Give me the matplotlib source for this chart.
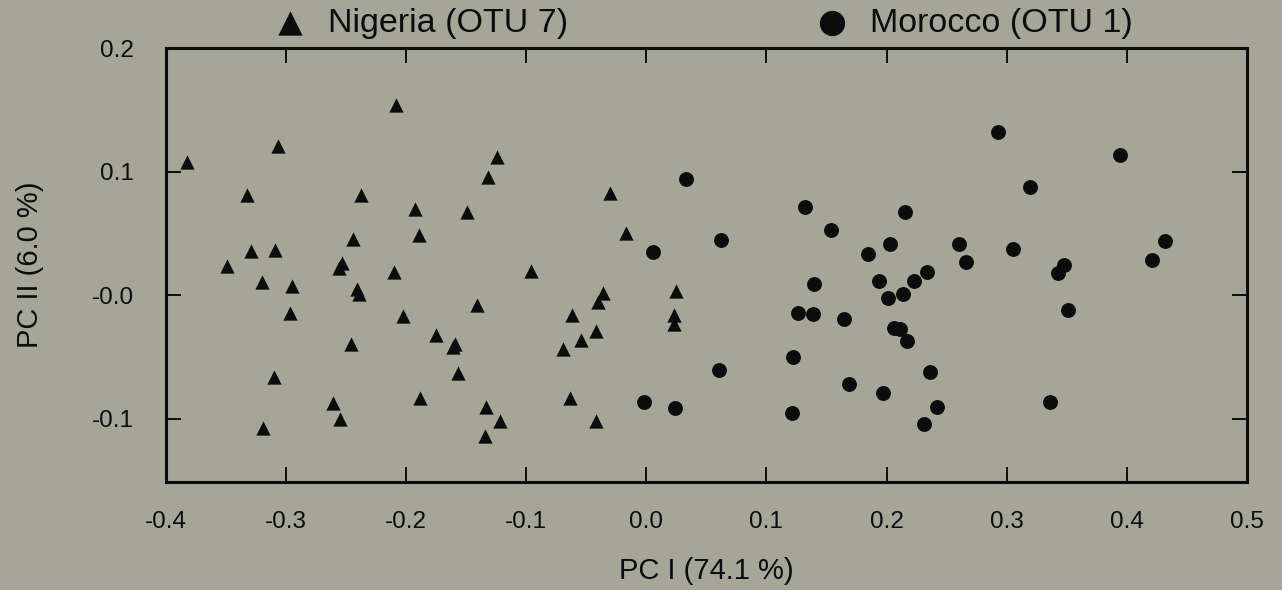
import numpy as np
import matplotlib
matplotlib.use('Agg')
import matplotlib.pyplot as plt

plt.rcParams['font.family'] = ['Liberation Sans', 'DejaVu Sans']

# PCA scores
nigeria_x = [-0.208, -0.306, -0.382, -0.124, -0.132, -0.332, -0.237, -0.192, -0.149,
             -0.244, -0.189, -0.329, -0.309, -0.349, -0.256, -0.253, -0.210, -0.096,
             -0.320, -0.295, -0.241, -0.239, -0.141, -0.296, -0.202, -0.175, -0.159,
             -0.161, -0.246, -0.062, -0.069, -0.157, -0.310, -0.188, -0.063, -0.261,
             -0.133, -0.255, -0.122, -0.319, -0.134, -0.030, -0.017, -0.036, -0.040,
             0.025, 0.023, 0.023, -0.042, -0.054, -0.042]
nigeria_y = [0.154, 0.121, 0.108, 0.112, 0.096, 0.081, 0.081, 0.070, 0.068,
             0.046, 0.049, 0.036, 0.037, 0.024, 0.022, 0.026, 0.019, 0.020,
             0.011, 0.008, 0.005, 0.001, -0.008, -0.014, -0.017, -0.032, -0.039,
             -0.042, -0.039, -0.016, -0.043, -0.063, -0.066, -0.083, -0.083, -0.087,
             -0.090, -0.100, -0.102, -0.107, -0.114, 0.083, 0.051, 0.002, -0.005,
             0.004, -0.016, -0.023, -0.029, -0.036, -0.102]

morocco_x = [0.033, 0.132, 0.215, 0.154, 0.062, 0.203, 0.006, 0.185, 0.194, 0.223,
             0.140, 0.214, 0.201, 0.126, 0.139, 0.165, 0.206, 0.211, 0.217, 0.122,
             0.061, 0.169, 0.197, -0.002, 0.024, 0.121, 0.293, 0.394, 0.319, 0.432,
             0.260, 0.305, 0.266, 0.421, 0.234, 0.348, 0.343, 0.351, 0.236, 0.336,
             0.242, 0.231]
morocco_y = [0.094, 0.072, 0.068, 0.053, 0.045, 0.042, 0.035, 0.034, 0.012, 0.012,
             0.009, 0.001, -0.002, -0.014, -0.015, -0.019, -0.026, -0.027, -0.037, -0.050,
             -0.060, -0.072, -0.079, -0.086, -0.091, -0.095, 0.132, 0.114, 0.088, 0.044,
             0.042, 0.038, 0.027, 0.029, 0.019, 0.025, 0.018, -0.012, -0.062, -0.086,
             -0.090, -0.104]

xticks = [-0.4, -0.3, -0.2, -0.1, 0.0, 0.1, 0.2, 0.3, 0.4, 0.5]
xticklabels = ['-0.4', '-0.3', '-0.2', '-0.1', '0.0', '0.1', '0.2', '0.3', '0.4', '0.5']
yticks = [-0.1, 0.0, 0.1, 0.2]
yticklabels = ['-0.1', '-0.0', '0.1', '0.2']

bg = '#a5a697'
ink = '#0c0c0c'

fig = plt.figure(figsize=(12.82, 5.90), dpi=100, facecolor=bg)
ax = fig.add_axes([0.1291, 0.1831, 0.8436, 0.7347])
ax.set_facecolor(bg)

tri = ax.scatter(nigeria_x, nigeria_y, marker='^', s=106, color=ink, linewidths=0)
dot = ax.scatter(morocco_x, morocco_y, marker='o', s=115, color=ink, linewidths=0)

ax.set_xlim(-0.4, 0.5)
ax.set_ylim(-0.151, 0.2)
ax.set_xticks(xticks)
ax.set_xticklabels(xticklabels)
ax.set_yticks(yticks)
ax.set_yticklabels(yticklabels)
ax.tick_params(direction='in', length=10.5, width=1.4, color=ink,
               top=True, right=True, labelsize=17.5, labelcolor=ink)
ax.tick_params(axis='x', pad=21)
ax.tick_params(axis='y', pad=23)
for sp in ax.spines.values():
    sp.set_linewidth(2.2)
    sp.set_color(ink)

ax.set_xlabel('PC I (74.1 %)', fontsize=21, color=ink, labelpad=17)
ax.set_ylabel('PC II (6.0 %)', fontsize=21, color=ink, labelpad=34)

leg_kw = dict(loc='center left', frameon=False, fontsize=24.5, markerscale=1.7,
              borderpad=0, borderaxespad=0, handlelength=1.0, handletextpad=0.62,
              labelcolor=ink)
leg1 = ax.legend([tri], ['Nigeria (OTU 7)'], bbox_to_anchor=(0.0994, 1.058), **leg_kw)
ax.add_artist(leg1)
ax.legend([dot], ['Morocco (OTU 1)'], bbox_to_anchor=(0.6005, 1.058), **leg_kw)

fig.savefig('out.png', dpi=100, facecolor=bg)
